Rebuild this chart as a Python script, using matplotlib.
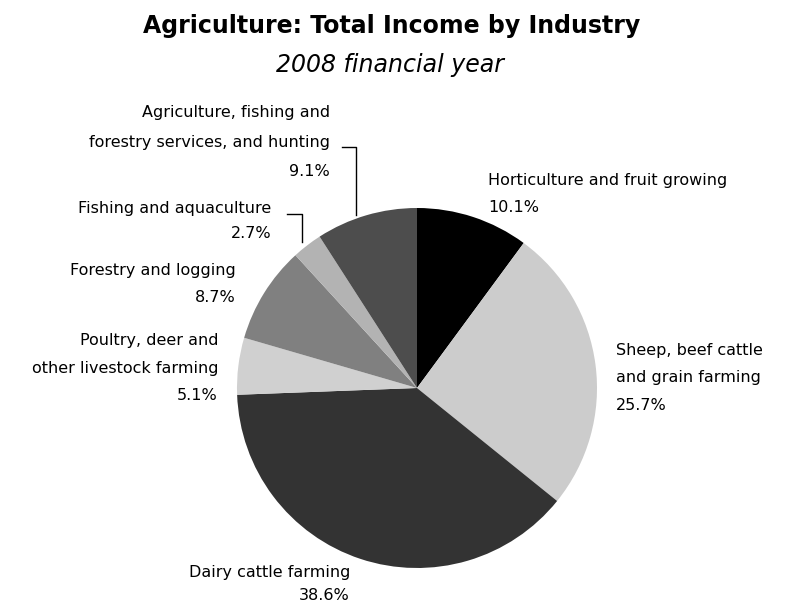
import matplotlib.pyplot as plt

# data, clockwise from 12 o'clock
industries = ["Horticulture and fruit growing",
              "Sheep, beef cattle\nand grain farming",
              "Dairy cattle farming",
              "Poultry, deer and\nother livestock farming",
              "Forestry and logging",
              "Fishing and aquaculture",
              "Agriculture, fishing and\nforestry services, and hunting"]
shares = [10.1, 25.7, 38.6, 5.1, 8.7, 2.7, 9.1]
colors = ["#000000", "#cccccc", "#333333", "#d0d0d0", "#808080", "#b3b3b3", "#4d4d4d"]

W, H = 790, 605

# label anchors in pixels (x, y from top), alignment, line spacing
label_pos = [(488, 180, "left", 27), (616, 350, "left", 27.5), (350, 572, "right", 23),
             (218, 340, "right", 28), (236, 271, "right", 27), (271, 208, "right", 26),
             (330, 113, "right", 29)]

fig = plt.figure(figsize=(W / 100, H / 100), dpi=100)
ax = fig.add_axes([0, 0, 1, 1])

ax.pie(shares, colors=colors, startangle=90, counterclock=False,
       center=(417, H - 388), radius=180,
       wedgeprops=dict(linewidth=0))
ax.set_xlim(0, W)
ax.set_ylim(0, H)
ax.set_aspect("equal")
ax.axis("off")

lab_font = dict(family="DejaVu Sans", fontsize=11.5, color="black")
for name, val, (x, y, ha, lh) in zip(industries, shares, label_pos):
    lines = name.split("\n") + [f"{val}%"]
    for i, t in enumerate(lines):
        ax.text(x, H - (y + i * lh), t, ha=ha, va="center", **lab_font)

# leader lines
ax.plot([342, 356, 356], [H - 147, H - 147, H - 215], color="black", lw=1)
ax.plot([287, 302, 302], [H - 214, H - 214, H - 242], color="black", lw=1)

ax.text(392, H - 33, "Agriculture: Total Income by Industry", ha="center", va="baseline",
        fontsize=17, fontweight="bold", family="DejaVu Sans")
ax.text(390, H - 72, "2008 financial year", ha="center", va="baseline",
        fontsize=17, style="italic", family="DejaVu Sans")

fig.savefig("out.png", dpi=100, facecolor="white")
